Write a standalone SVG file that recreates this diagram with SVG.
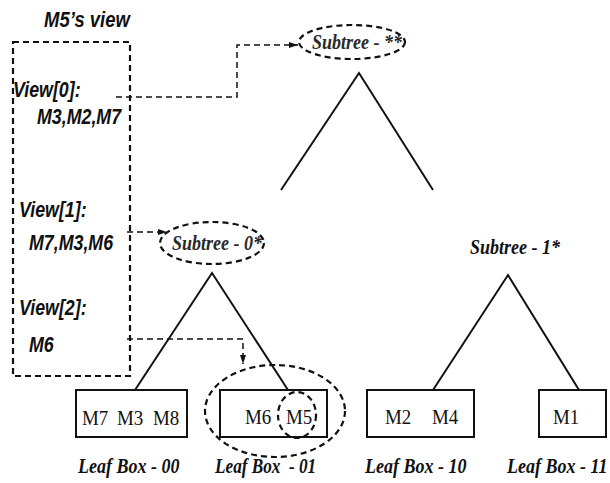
<svg xmlns="http://www.w3.org/2000/svg" width="610" height="483" viewBox="0 0 610 483">
<style>
.sans{font-family:"Liberation Sans",Arial,sans-serif;font-weight:bold;font-style:italic;font-size:22px;fill:#111}
.lbl{font-family:"Liberation Serif","Times New Roman",serif;font-style:italic;font-weight:bold;font-size:20px;fill:#111}
.sub{font-family:"Liberation Serif","Times New Roman",serif;font-style:italic;font-weight:bold;font-size:20px;fill:#2a2a2a}
.box{fill:#fff;stroke:#111;stroke-width:2}
.bt{font-family:"Liberation Serif","Times New Roman",serif;font-size:22px;fill:#111}
.tri{fill:none;stroke:#111;stroke-width:2}
.dash{fill:none;stroke:#111;stroke-width:2.2;stroke-dasharray:6 4}
.conn{fill:none;stroke:#111;stroke-width:1.5;stroke-dasharray:6 4}
</style>
<defs>
<marker id="arr" markerWidth="10" markerHeight="8" refX="9" refY="4" orient="auto" markerUnits="userSpaceOnUse">
<path d="M0,1 L9,4 L0,7 Z" fill="#111"/>
</marker>
</defs>
<g id="view-panel">
<text class="sans" transform="translate(44,27) scale(0.84,1)">M5’s view</text>
<rect class="dash" x="13" y="42" width="117" height="334"/>
<text class="sans" transform="translate(13,97) scale(0.81,1)">View[0]:</text>
<text class="sans" transform="translate(37,124) scale(0.81,1)">M3,M2,M7</text>
<text class="sans" transform="translate(19,217) scale(0.81,1)">View[1]:</text>
<text class="sans" transform="translate(29,250) scale(0.81,1)">M7,M3,M6</text>
<text class="sans" transform="translate(19,315) scale(0.81,1)">View[2]:</text>
<text class="sans" transform="translate(29,352) scale(0.81,1)">M6</text>
</g>
<g id="subtree-root">
<ellipse class="dash" cx="352" cy="42" rx="53" ry="17"/>
<text class="sub" transform="translate(312,49) scale(0.9,1)">Subtree - **</text>
<polyline class="tri" points="281,190 359,73 433,190"/>
</g>
<g id="subtree-0">
<ellipse class="dash" cx="212" cy="243" rx="52" ry="21"/>
<text class="sub" transform="translate(172,250) scale(0.9,1)">Subtree - 0*</text>
<polyline class="tri" points="135,390 212,273 288,390"/>
</g>
<g id="subtree-1">
<text class="lbl" transform="translate(470,254) scale(0.9,1)">Subtree - 1*</text>
<polyline class="tri" points="433,390 508,275 579,390"/>
</g>
<g id="leaf-00">
<rect class="box" x="76" y="390" width="111" height="47"/>
<text class="bt" transform="translate(82,425) scale(0.86,1)">M7</text>
<text class="bt" transform="translate(117,425) scale(0.86,1)">M3</text>
<text class="bt" transform="translate(153,425) scale(0.86,1)">M8</text>
<text class="lbl" transform="translate(78,473) scale(0.9,1)">Leaf Box - 00</text>
</g>
<g id="leaf-01">
<rect class="box" x="220" y="390" width="107" height="47"/>
<text class="bt" transform="translate(245,424) scale(0.86,1)">M6</text>
<text class="bt" transform="translate(286,424) scale(0.86,1)">M5</text>
<ellipse class="dash" cx="297" cy="415" rx="19" ry="23"/>
<ellipse class="dash" cx="275" cy="411" rx="70" ry="46"/>
<text class="lbl" transform="translate(215,473) scale(0.86,1)" xml:space="preserve">Leaf Box  - 01</text>
</g>
<g id="leaf-10">
<rect class="box" x="367" y="390" width="107" height="47"/>
<text class="bt" transform="translate(385,424) scale(0.86,1)">M2</text>
<text class="bt" transform="translate(432,424) scale(0.86,1)">M4</text>
<text class="lbl" transform="translate(365,473) scale(0.9,1)">Leaf Box - 10</text>
</g>
<g id="leaf-11">
<rect class="box" x="539" y="390" width="67" height="47"/>
<text class="bt" transform="translate(553,424) scale(0.86,1)">M1</text>
<text class="lbl" transform="translate(507,473) scale(0.9,1)">Leaf Box - 11</text>
</g>
<g id="connectors">
<polyline class="conn" points="116,97 237,97 237,45 298,45" marker-end="url(#arr)"/>
<polyline class="conn" points="127,232 167,232" marker-end="url(#arr)"/>
<polyline class="conn" points="127,339 243,339 243,364" marker-end="url(#arr)"/>
</g>
</svg>
